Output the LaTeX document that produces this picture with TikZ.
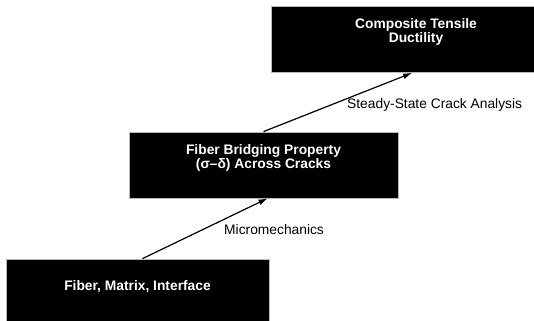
\documentclass[tikz,border=0pt]{standalone}
\usepackage{fontspec}
\setmainfont{Liberation Sans}
\usetikzlibrary{calc}
\usetikzlibrary{arrows.meta}
\newcommand{\diagfont}{\fontsize{13.8bp}{14bp}\selectfont}
\tikzstyle{block} = [draw=gray!55, line width=0.8bp, fill=black, rectangle,
                     minimum height=66bp, inner sep=0pt]
\tikzstyle{blocktext} = [text=white, align=center, inner sep=0pt,
                         font=\diagfont\bfseries]
\tikzstyle{edgelabel} = [anchor=west, inner sep=0pt, font=\diagfont]

\begin{document}
\begin{tikzpicture}[x=1bp, y=-1bp, >={Latex[length=9bp,width=6bp]}]

% background
\fill[white] (0,0) rectangle (534,320);
\clip (0,0) rectangle (534,320);

% add blocks
\node [block, minimum width=263bp] (fmi) at (137.5,292) {};
\node [block, minimum width=269bp] (fbp) at (263.5,165) {};
\node [block, minimum width=290bp] (ctd) at (416,39.5) {};

% add block texts
\node [blocktext] (fmitext) at ($(fmi)+(0,-5)$) {Fiber, Matrix, Interface};
\node [blocktext] (fbptext) at ($(fbp)+(0,-7)$) {Fiber Bridging Property \\
                                                   (σ–δ) Across Cracks};
\node [blocktext] (ctdtext) at ($(ctd)+(0,-8)$) {Composite Tensile \\
                                                   Ductility};

% add connections
\draw[->, line width=1.2bp] ($(fmi.north)+(5,0)$) -- ($(fbp.south)+(4,0)$);
\draw[->, line width=1.2bp] (fbp.north) -- ($(ctd.south)+(-4,0)$);

% add labels
\node [edgelabel] (micro) at (224,230) {Micromechanics};
\node [edgelabel] (steady) at (347,105) {Steady-State Crack Analysis};

\end{tikzpicture}
\end{document}
